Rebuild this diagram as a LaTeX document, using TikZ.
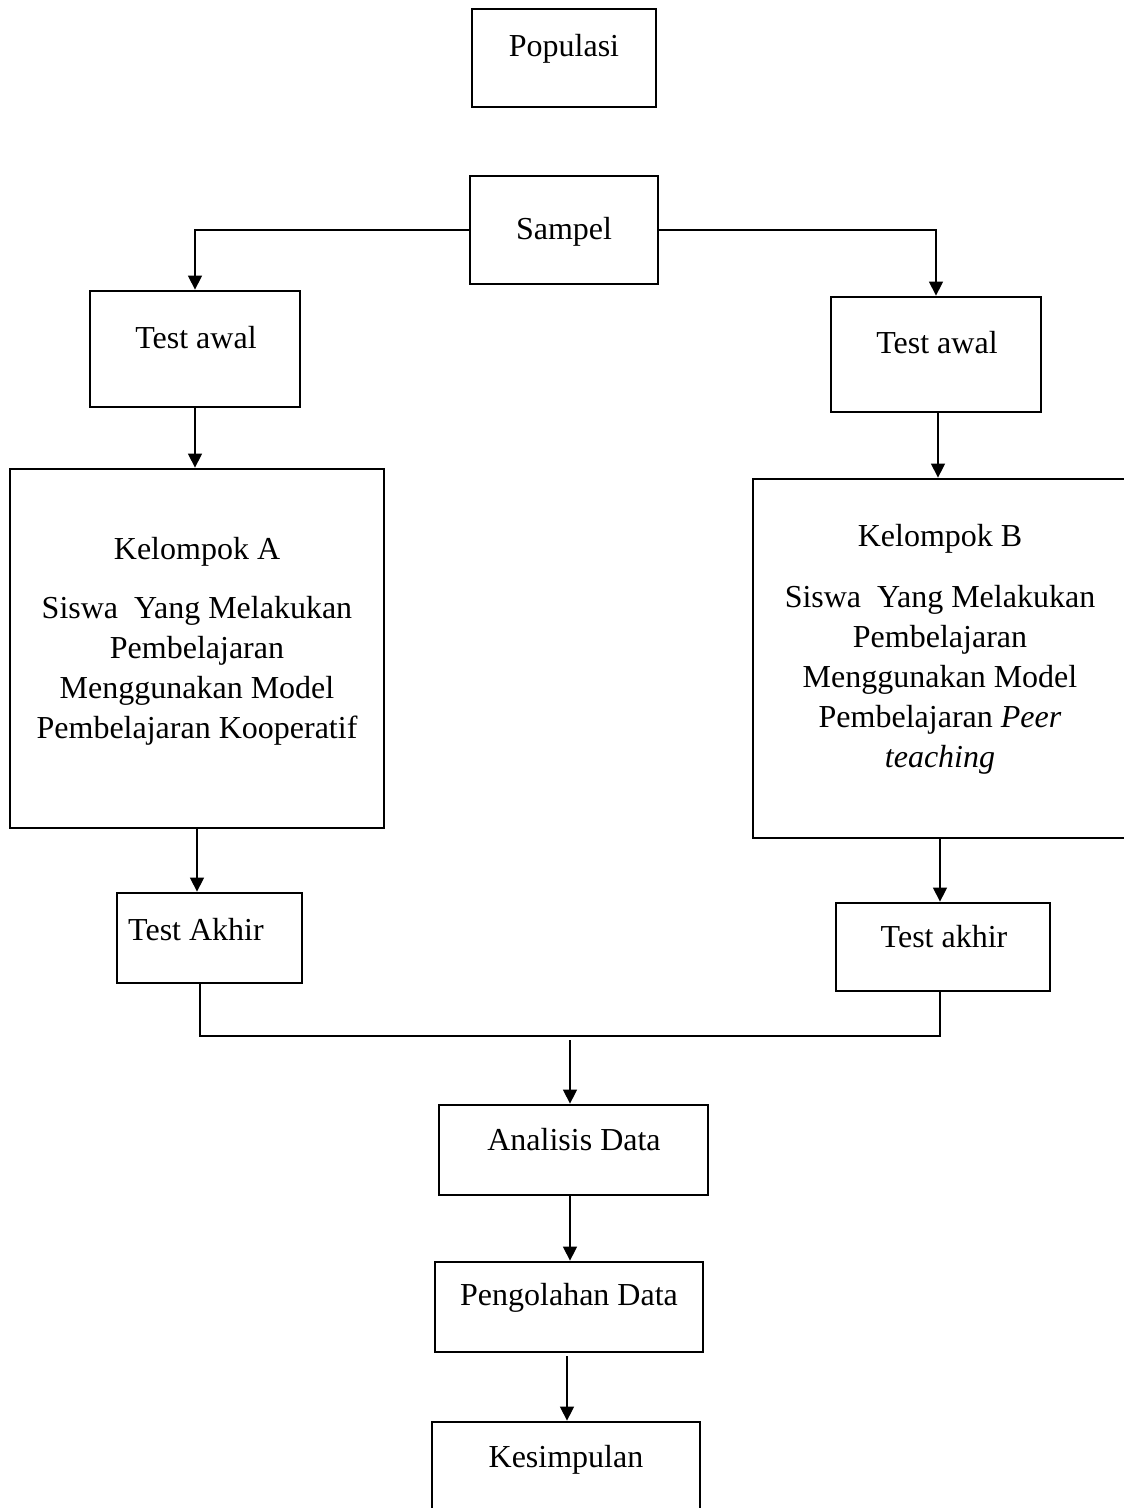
\documentclass[tikz,border=0pt]{standalone}
\usepackage{fontspec}
\setmainfont{Liberation Serif}
\usetikzlibrary{positioning,arrows.meta,calc}

\begin{document}
\begin{tikzpicture}[x=0.5pt, y=-0.5pt,
    every node/.style={font=\fontsize{16}{20}\selectfont, align=center},
    box/.style={draw, line width=1.4pt, inner sep=0pt},                 % kotak
    txt/.style={inner sep=0pt, anchor=base},                            % teks kotak
    ln/.style={line width=0.7pt},                                       % garis
    arr/.style={ln, -{Triangle[length=7pt, width=7pt]}}                 % panah
  ]
  \useasboundingbox (0,0) rectangle (1123,1508);

  % ============ atas : populasi dan sampel ==============================
  \node[box, minimum width=92pt, minimum height=49pt] (pop) at (564,58) {};
  \node[txt] (popt) at (564,57) {Populasi};
  \node[box, minimum width=94pt, minimum height=54pt] (samp) at (564,230) {};
  \node[txt] (sampt) at (564,240) {Sampel};

  % ============ cabang kiri : kelompok A ================================
  \node[box, minimum width=105pt, minimum height=58pt] (tawA) at (195,349) {};
  \node[txt] (tawAt) at (196,349) {Test awal};
  \node[box, minimum width=187pt, minimum height=179.5pt] (kelA) at (197,648.5) {};
  \node[txt] (kelAt) at (197,738)       % base = baris terakhir
    {Kelompok A\\[9.5pt] Siswa~ Yang Melakukan\\ Pembelajaran\\
     Menggunakan Model\\ Pembelajaran Kooperatif};
  \node[box, minimum width=92.5pt, minimum height=45pt] (takA) at (209.5,938) {};
  \node[txt] (takAt) at (196,940) {Test Akhir};

  % ============ cabang kanan : kelompok B ===============================
  \node[box, minimum width=105pt, minimum height=57.5pt] (tawB) at (936,354.5) {};
  \node[txt] (tawBt) at (937,354) {Test awal};
  \node[box, minimum width=187pt, minimum height=179.5pt] (kelB) at (940,658.5) {};
  \node[txt] (kelBt) at (940,767)
    {Kelompok B\\[10.5pt] Siswa~ Yang Melakukan\\ Pembelajaran\\
     Menggunakan Model\\ Pembelajaran \textit{Peer}\\ \textit{teaching}};
  \node[box, minimum width=107pt, minimum height=44pt] (takB) at (943,947) {};
  \node[txt] (takBt) at (944,947) {Test akhir};

  % ============ bawah : analisis sampai kesimpulan ======================
  \node[box, minimum width=134.5pt, minimum height=45pt] (ana) at (573.5,1150) {};
  \node[txt] (anat) at (574,1150) {Analisis Data};
  \node[box, minimum width=134pt, minimum height=45pt] (peng) at (569,1307) {};
  \node[txt] (pengt) at (569,1305) {Pengolahan Data};
  \node[box, minimum width=134pt, minimum height=45pt] (kes) at (566,1467) {};
  \node[txt] (kest) at (566,1467) {Kesimpulan};

  % ============ panah ===================================================
  \draw[arr] (samp.west) -| (tawA.north);
  \draw[arr] (samp.east) -| (tawB.north);
  \draw[arr] (tawA.south) -- (tawA.south |- kelA.north);
  \draw[arr] ([xshift=1pt]tawB.south) -- ([xshift=1pt]tawB.south |- kelB.north);
  \draw[arr] (kelA.south) -- (kelA.south |- takA.north);
  \draw[arr] (kelB.south) -- (kelB.south |- takB.north);

  \coordinate (jn) at (570,1036);
  \draw[ln] ([xshift=-4.75pt]takA.south) |- (jn) -| ([xshift=-1.5pt]takB.south);
  \draw[arr] ([yshift=-2pt]jn) -- (jn |- ana.north);
  \draw[arr] ([xshift=-1.75pt]ana.south) -- ([xshift=-1.75pt]ana.south |- peng.north);
  \draw[arr] ([xshift=-1pt,yshift=-1.5pt]peng.south) -- ([xshift=-1pt]peng.south |- kes.north);
\end{tikzpicture}
\end{document}
